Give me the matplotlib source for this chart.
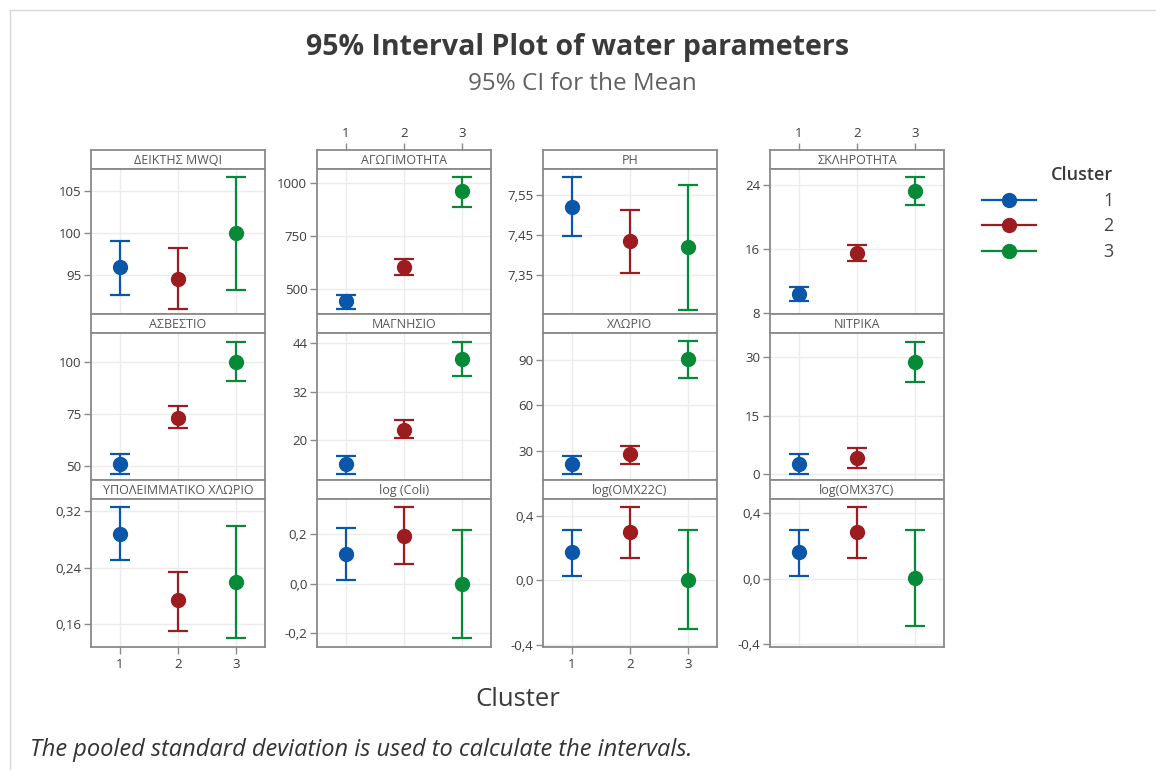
import matplotlib
matplotlib.use("Agg")
import matplotlib.pyplot as plt
from matplotlib.lines import Line2D
from matplotlib.ticker import FuncFormatter
import numpy as np

plt.rcParams['font.family'] = ['Open Sans', 'DejaVu Sans']
plt.rcParams['axes.unicode_minus'] = False

# --- data (mean, lower CI, upper CI) for clusters 1, 2, 3 ---
clusters = [1, 2, 3]
cluster_labels = ['1', '2', '3']

panel_names = [
    ['ΔΕΙΚΤΗΣ MWQI', 'ΑΓΩΓΙΜΟΤΗΤΑ', 'PH', 'ΣΚΛΗΡΟΤΗΤΑ'],
    ['ΑΣΒΕΣΤΙΟ', 'ΜΑΓΝΗΣΙΟ', 'ΧΛΩΡΙΟ', 'ΝΙΤΡΙΚΑ'],
    ['ΥΠΟΛΕΙΜΜΑΤΙΚΟ ΧΛΩΡΙΟ', 'log (Coli)', 'log(ΟΜΧ22C)', 'log(ΟΜΧ37C)'],
]

means = [
    [[96.0, 94.5, 100.0], [445, 606, 961], [7.520, 7.436, 7.421], [10.4, 15.5, 23.25]],
    [[51.0, 73.1, 100.0], [14.0, 22.5, 40.1], [21.1, 27.6, 90.4], [2.6, 4.2, 28.9]],
    [[0.2886, 0.1937, 0.2194], [0.121, 0.192, -0.001], [0.177, 0.302, 0.0], [0.166, 0.289, 0.006]],
]
lower = [
    [[92.65, 90.95, 93.3], [406, 567, 886], [7.449, 7.355, 7.265], [9.54, 14.5, 21.55]],
    [[46.0, 68.2, 90.5], [11.46, 20.4, 35.9], [14.3, 21.1, 78.3], [-0.1, 1.6, 23.8]],
    [[0.2509, 0.1509, 0.140], [0.013, 0.080, -0.221], [0.029, 0.140, -0.302], [0.020, 0.129, -0.290]],
]
upper = [
    [[99.1, 98.2, 106.7], [473, 643, 1027], [7.595, 7.514, 7.575], [11.33, 16.46, 25.0]],
    [[55.7, 78.7, 109.5], [16.0, 25.0, 44.4], [26.5, 33.1, 102.2], [5.1, 6.8, 34.1]],
    [[0.3257, 0.2346, 0.2994], [0.226, 0.308, 0.217], [0.3125, 0.4525, 0.3125], [0.299, 0.437, 0.299]],
]

yticks = [
    [[95, 100, 105], [500, 750, 1000], [7.35, 7.45, 7.55], [8, 16, 24]],
    [[50, 75, 100], [20, 32, 44], [30, 60, 90], [0, 15, 30]],
    [[0.16, 0.24, 0.32], [-0.2, 0.0, 0.2], [-0.4, 0.0, 0.4], [-0.4, 0.0, 0.4]],
]
ylims = [
    [(90.4, 107.6), (384, 1064), (7.254, 7.615), (7.9, 26.0)],
    [(43.2, 113.7), (9.95, 46.6), (10.5, 107.8), (-1.55, 36.3)],
    [(0.1276, 0.3376), (-0.256, 0.341), (-0.414, 0.504), (-0.417, 0.488)],
]
decimals = [
    [0, 0, 2, 0],
    [0, 0, 0, 0],
    [2, 1, 1, 1],
]

colors = ['#0a56a8', '#9c1c1f', '#078a37']
spine_col = '#8a8a8a'
text_col = '#3c3c3c'

W, H = 1156, 770
fig = plt.figure(figsize=(W / 100, H / 100), dpi=100)

col_left = [91, 317, 543, 770]
col_w = 174
strip_top = [150, 314, 480]
strip_h = 19
row_bottom = [314, 480, 647]


def fig_rect(x0, y0, w, h):
    return [x0 / W, 1 - (y0 + h) / H, w / W, h / H]


def style_spines(ax):
    for s in ax.spines.values():
        s.set_color(spine_col)
        s.set_linewidth(1.3)


for r in range(3):
    for c in range(4):
        x0 = col_left[c]
        # strip
        sax = fig.add_axes(fig_rect(x0, strip_top[r], col_w, strip_h))
        sax.set_xlim(0.5, 3.5)
        sax.set_ylim(0, 1)
        sax.set_yticks([])
        style_spines(sax)
        sax.text(2, 0.45, panel_names[r][c], ha='center', va='center',
                 fontsize=9, color='#555555')
        if r == 0 and c in (1, 3):
            sax.xaxis.tick_top()
            sax.set_xticks(clusters)
            sax.set_xticklabels(cluster_labels)
            sax.tick_params(axis='x', length=5, width=1, color=spine_col,
                            labelsize=9.5, labelcolor=text_col, pad=2)
        else:
            sax.set_xticks([])

        # plot panel
        top = strip_top[r] + strip_h
        ax = fig.add_axes(fig_rect(x0, top, col_w, row_bottom[r] - top))
        ax.set_xlim(0.5, 3.5)
        ax.set_ylim(*ylims[r][c])
        style_spines(ax)
        ax.grid(True, color='#ececec', linewidth=1)
        ax.set_axisbelow(True)
        for k in range(3):
            m = means[r][c][k]
            err = [[m - lower[r][c][k]], [upper[r][c][k] - m]]
            ax.errorbar(clusters[k], m, yerr=err, fmt='o', color=colors[k],
                        markersize=10, elinewidth=1.6, capsize=7, capthick=1.6)
        ax.set_yticks(yticks[r][c])
        d = decimals[r][c]
        ax.yaxis.set_major_formatter(FuncFormatter(
            lambda v, p, d=d: f'{v:.{d}f}'.replace('.', ',')))
        ax.set_xticks(clusters)
        ax.tick_params(axis='y', length=5, width=1, color=spine_col,
                       labelsize=9.5, labelcolor=text_col, pad=2)
        if r == 2 and c in (0, 2):
            ax.set_xticklabels(cluster_labels)
            ax.tick_params(axis='x', length=5, width=1, color=spine_col,
                           labelsize=9.5, labelcolor=text_col, pad=3)
        else:
            ax.tick_params(axis='x', length=0, labelbottom=False)

# titles and labels
fig.text(578 / W, 1 - 48 / H, '95% Interval Plot of water parameters',
         ha='center', va='center', fontsize=20.5, fontweight='bold', color='#3a3a3a')
fig.text(582 / W, 1 - 84 / H, '95% CI for the Mean', ha='center', va='center',
         fontsize=17.5, color='#606060')
fig.text(518 / W, 1 - 700 / H, 'Cluster', ha='center', va='center',
         fontsize=18.5, color='#3a3a3a')
fig.text(30 / W, 1 - 750 / H,
         'The pooled standard deviation is used to calculate the intervals.',
         ha='left', va='center', fontsize=17, style='italic', color='#333333')

handles = [Line2D([], [], color=colors[k], marker='o', markersize=10, linewidth=1.6)
           for k in range(3)]
leg = fig.legend(handles, cluster_labels, title='Cluster', loc='upper left',
                 bbox_to_anchor=(966 / W, 1 - 150 / H), frameon=False,
                 fontsize=13, title_fontsize=13, handlelength=3.0,
                 handletextpad=3.7, labelspacing=0.42, alignment='right')
for t in leg.get_texts():
    t.set_color('#444444')
leg.get_title().set_color('#3a3a3a')
leg.get_title().set_fontweight('semibold')

# light frame around the graph window
fig.add_artist(Line2D([10 / W, 10 / W], [0, 1 - 10 / H], color='#d8d8d8', linewidth=1))
fig.add_artist(Line2D([10 / W, 1], [1 - 10 / H, 1 - 10 / H], color='#d8d8d8', linewidth=1))

fig.savefig('out.png', dpi=100, facecolor='white')
